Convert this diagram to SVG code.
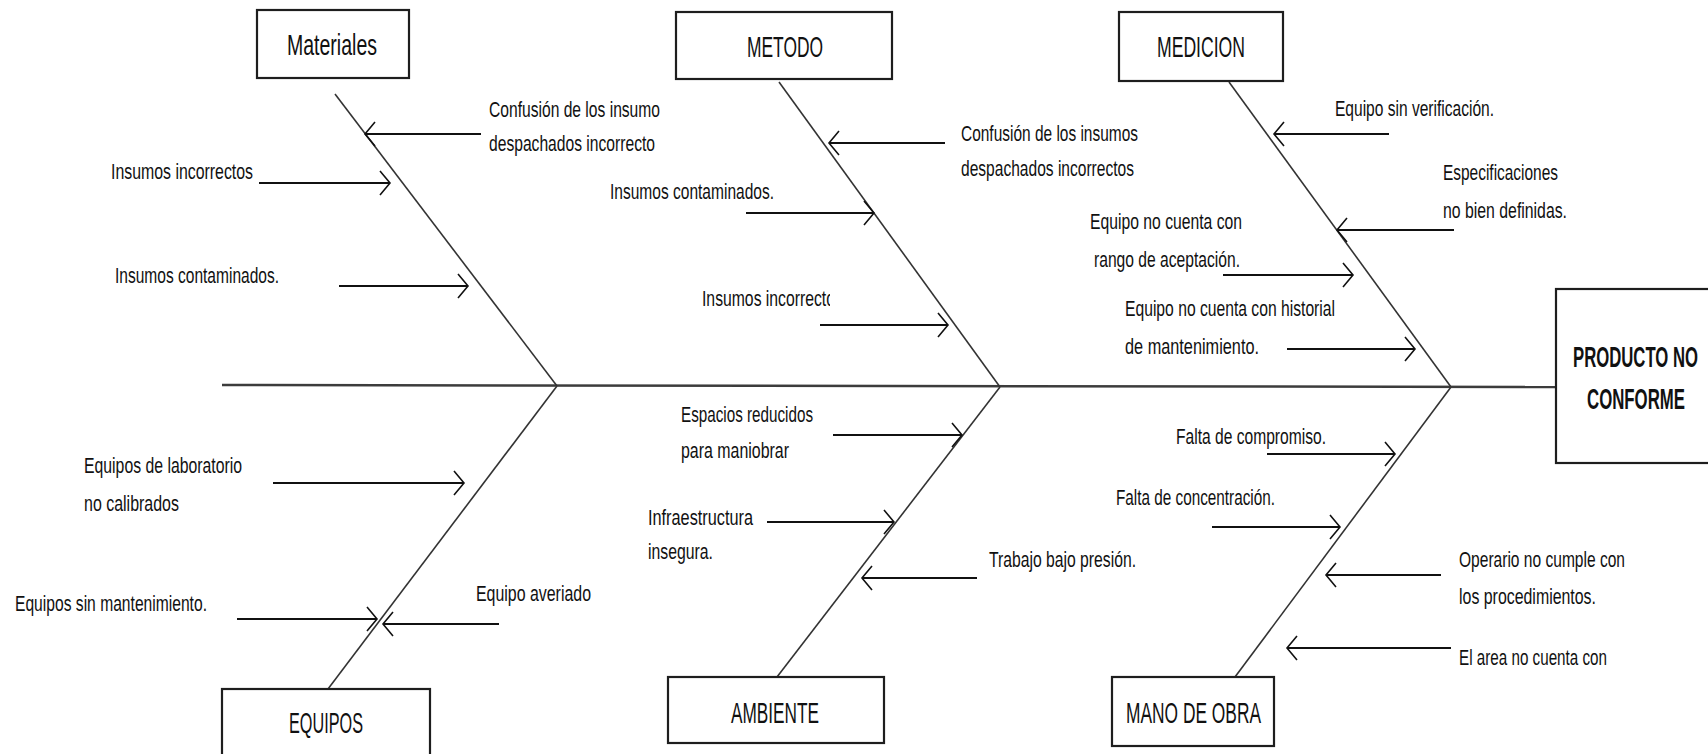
<svg xmlns="http://www.w3.org/2000/svg" width="1708" height="754" viewBox="0 0 1708 754">
  <style>
    .box { fill: #ffffff; stroke: #1e1e1e; stroke-width: 2.2; }
    .head { font-family: "Liberation Sans Narrow", "Liberation Sans", Arial, sans-serif; font-size: 30px; fill: #111; }
    .effect { font-family: "Liberation Sans Narrow", "Liberation Sans", Arial, sans-serif; font-size: 29px; font-weight: bold; fill: #111; }
    .cause { font-family: "Liberation Sans Narrow", "Liberation Sans", Arial, sans-serif; font-size: 22px; fill: #111; }
    .spine { stroke: #3c3c3c; stroke-width: 2.6; fill: none; }
    .bone { stroke: #333; stroke-width: 1.6; fill: none; }
    .arrow { stroke: #111; stroke-width: 2.2; fill: none; marker-end: url(#ah); }
  </style>
  <defs>
    <marker id="ah" markerUnits="userSpaceOnUse" viewBox="-12 -14 14 28" refX="0" refY="0" markerWidth="14" markerHeight="28" orient="auto">
      <path d="M-10,-12 L0,0 L-10,12" fill="none" stroke="#111" stroke-width="1.6"/>
    </marker>
    <clipPath id="clipMetodo3">
      <rect x="690" y="280" width="140" height="40"/>
    </clipPath>
  </defs>
  <rect width="1708" height="754" fill="#ffffff"/>

  <!-- spine, bones and cause arrows -->
  <g id="connectors">
    <line class="spine" x1="222" y1="385" x2="1556" y2="387"/>
    <!-- upper bones -->
    <line class="bone" x1="335" y1="94" x2="557" y2="386"/>
    <line class="bone" x1="779" y1="82" x2="1000" y2="387"/>
    <line class="bone" x1="1229" y1="82" x2="1451" y2="387"/>
    <!-- lower bones -->
    <line class="bone" x1="557" y1="386" x2="328" y2="689"/>
    <line class="bone" x1="1000" y1="387" x2="777" y2="677"/>
    <line class="bone" x1="1451" y1="387" x2="1235" y2="677"/>
    <!-- Materiales -->
    <line class="arrow" x1="481" y1="134" x2="365" y2="134"/>
    <line class="arrow" x1="259" y1="183" x2="390" y2="183"/>
    <line class="arrow" x1="339" y1="286" x2="468" y2="286"/>
    <!-- Metodo -->
    <line class="arrow" x1="945" y1="143" x2="829" y2="143"/>
    <line class="arrow" x1="746" y1="213" x2="874" y2="213"/>
    <line class="arrow" x1="820" y1="325" x2="948" y2="325"/>
    <!-- Medicion -->
    <line class="arrow" x1="1389" y1="134" x2="1274" y2="134"/>
    <line class="arrow" x1="1454" y1="230" x2="1337" y2="230"/>
    <line class="arrow" x1="1223" y1="275" x2="1353" y2="275"/>
    <line class="arrow" x1="1287" y1="349" x2="1415" y2="349"/>
    <!-- Equipos -->
    <line class="arrow" x1="273" y1="483" x2="464" y2="483"/>
    <line class="arrow" x1="237" y1="619" x2="377" y2="619"/>
    <line class="arrow" x1="499" y1="624" x2="383" y2="624"/>
    <!-- Ambiente -->
    <line class="arrow" x1="833" y1="435" x2="962" y2="435"/>
    <line class="arrow" x1="767" y1="522" x2="894" y2="522"/>
    <line class="arrow" x1="977" y1="578" x2="862" y2="578"/>
    <!-- Mano de obra -->
    <line class="arrow" x1="1267" y1="454" x2="1395" y2="454"/>
    <line class="arrow" x1="1212" y1="527" x2="1340" y2="527"/>
    <line class="arrow" x1="1441" y1="575" x2="1326" y2="575"/>
    <line class="arrow" x1="1451" y1="648" x2="1287" y2="648"/>
  </g>

  <!-- category boxes -->
  <g id="materiales">
    <rect class="box" x="257" y="10" width="152" height="68"/>
    <text class="head" x="287" y="55" textLength="90" lengthAdjust="spacingAndGlyphs">Materiales</text>
  </g>
  <g id="metodo">
    <rect class="box" x="676" y="12" width="216" height="67"/>
    <text class="head" x="747" y="57" textLength="76" lengthAdjust="spacingAndGlyphs">METODO</text>
  </g>
  <g id="medicion">
    <rect class="box" x="1119" y="12" width="164" height="69"/>
    <text class="head" x="1157" y="57" textLength="88" lengthAdjust="spacingAndGlyphs">MEDICION</text>
  </g>
  <g id="equipos">
    <rect class="box" x="222" y="689" width="208" height="70"/>
    <text class="head" x="289" y="733" textLength="74" lengthAdjust="spacingAndGlyphs">EQUIPOS</text>
  </g>
  <g id="ambiente">
    <rect class="box" x="668" y="677" width="216" height="66"/>
    <text class="head" x="731" y="723" textLength="88" lengthAdjust="spacingAndGlyphs">AMBIENTE</text>
  </g>
  <g id="mano-de-obra">
    <rect class="box" x="1112" y="677" width="162" height="69"/>
    <text class="head" x="1126" y="723" textLength="135" lengthAdjust="spacingAndGlyphs">MANO DE OBRA</text>
  </g>

  <!-- effect -->
  <g id="producto-no-conforme">
    <rect class="box" x="1556" y="289" width="160" height="174"/>
    <text class="effect" x="1573" y="367" textLength="125" lengthAdjust="spacingAndGlyphs">PRODUCTO NO</text>
    <text class="effect" x="1587" y="409" textLength="98" lengthAdjust="spacingAndGlyphs">CONFORME</text>
  </g>

  <!-- cause labels -->
  <g id="mat-causa-1">
    <text class="cause" x="489" y="117" textLength="171" lengthAdjust="spacingAndGlyphs">Confusión de los insumo</text>
    <text class="cause" x="489" y="151" textLength="166" lengthAdjust="spacingAndGlyphs">despachados incorrecto</text>
  </g>
  <g id="mat-causa-2">
    <text class="cause" x="111" y="179" textLength="142" lengthAdjust="spacingAndGlyphs">Insumos incorrectos</text>
  </g>
  <g id="mat-causa-3">
    <text class="cause" x="115" y="283" textLength="164" lengthAdjust="spacingAndGlyphs">Insumos contaminados.</text>
  </g>

  <g id="met-causa-1">
    <text class="cause" x="961" y="141" textLength="177" lengthAdjust="spacingAndGlyphs">Confusión de los insumos</text>
    <text class="cause" x="961" y="176" textLength="173" lengthAdjust="spacingAndGlyphs">despachados incorrectos</text>
  </g>
  <g id="met-causa-2">
    <text class="cause" x="610" y="199" textLength="164" lengthAdjust="spacingAndGlyphs">Insumos contaminados.</text>
  </g>
  <g id="met-causa-3" clip-path="url(#clipMetodo3)">
    <text class="cause" x="702" y="306" textLength="133" lengthAdjust="spacingAndGlyphs">Insumos incorrecto</text>
  </g>

  <g id="med-causa-1">
    <text class="cause" x="1335" y="116" textLength="159" lengthAdjust="spacingAndGlyphs">Equipo sin verificación.</text>
  </g>
  <g id="med-causa-2">
    <text class="cause" x="1443" y="180" textLength="115" lengthAdjust="spacingAndGlyphs">Especificaciones</text>
    <text class="cause" x="1443" y="218" textLength="124" lengthAdjust="spacingAndGlyphs">no bien definidas.</text>
  </g>
  <g id="med-causa-3">
    <text class="cause" x="1090" y="229" textLength="152" lengthAdjust="spacingAndGlyphs">Equipo no cuenta con</text>
    <text class="cause" x="1094" y="267" textLength="146" lengthAdjust="spacingAndGlyphs">rango de aceptación.</text>
  </g>
  <g id="med-causa-4">
    <text class="cause" x="1125" y="316" textLength="210" lengthAdjust="spacingAndGlyphs">Equipo no cuenta con historial</text>
    <text class="cause" x="1125" y="354" textLength="134" lengthAdjust="spacingAndGlyphs">de mantenimiento.</text>
  </g>

  <g id="eq-causa-1">
    <text class="cause" x="84" y="473" textLength="158" lengthAdjust="spacingAndGlyphs">Equipos de laboratorio</text>
    <text class="cause" x="84" y="511" textLength="95" lengthAdjust="spacingAndGlyphs">no calibrados</text>
  </g>
  <g id="eq-causa-2">
    <text class="cause" x="15" y="611" textLength="192" lengthAdjust="spacingAndGlyphs">Equipos sin mantenimiento.</text>
  </g>
  <g id="eq-causa-3">
    <text class="cause" x="476" y="601" textLength="115" lengthAdjust="spacingAndGlyphs">Equipo averiado</text>
  </g>

  <g id="amb-causa-1">
    <text class="cause" x="681" y="422" textLength="132" lengthAdjust="spacingAndGlyphs">Espacios reducidos</text>
    <text class="cause" x="681" y="458" textLength="108" lengthAdjust="spacingAndGlyphs">para maniobrar</text>
  </g>
  <g id="amb-causa-2">
    <text class="cause" x="648" y="525" textLength="105" lengthAdjust="spacingAndGlyphs">Infraestructura</text>
    <text class="cause" x="648" y="559" textLength="65" lengthAdjust="spacingAndGlyphs">insegura.</text>
  </g>
  <g id="amb-causa-3">
    <text class="cause" x="989" y="567" textLength="147" lengthAdjust="spacingAndGlyphs">Trabajo bajo presión.</text>
  </g>

  <g id="mo-causa-1">
    <text class="cause" x="1176" y="444" textLength="150" lengthAdjust="spacingAndGlyphs">Falta de compromiso.</text>
  </g>
  <g id="mo-causa-2">
    <text class="cause" x="1116" y="505" textLength="159" lengthAdjust="spacingAndGlyphs">Falta de concentración.</text>
  </g>
  <g id="mo-causa-3">
    <text class="cause" x="1459" y="567" textLength="166" lengthAdjust="spacingAndGlyphs">Operario no cumple con</text>
    <text class="cause" x="1459" y="604" textLength="137" lengthAdjust="spacingAndGlyphs">los procedimientos.</text>
  </g>
  <g id="mo-causa-4">
    <text class="cause" x="1459" y="665" textLength="148" lengthAdjust="spacingAndGlyphs">El area no cuenta con</text>
  </g>
</svg>
